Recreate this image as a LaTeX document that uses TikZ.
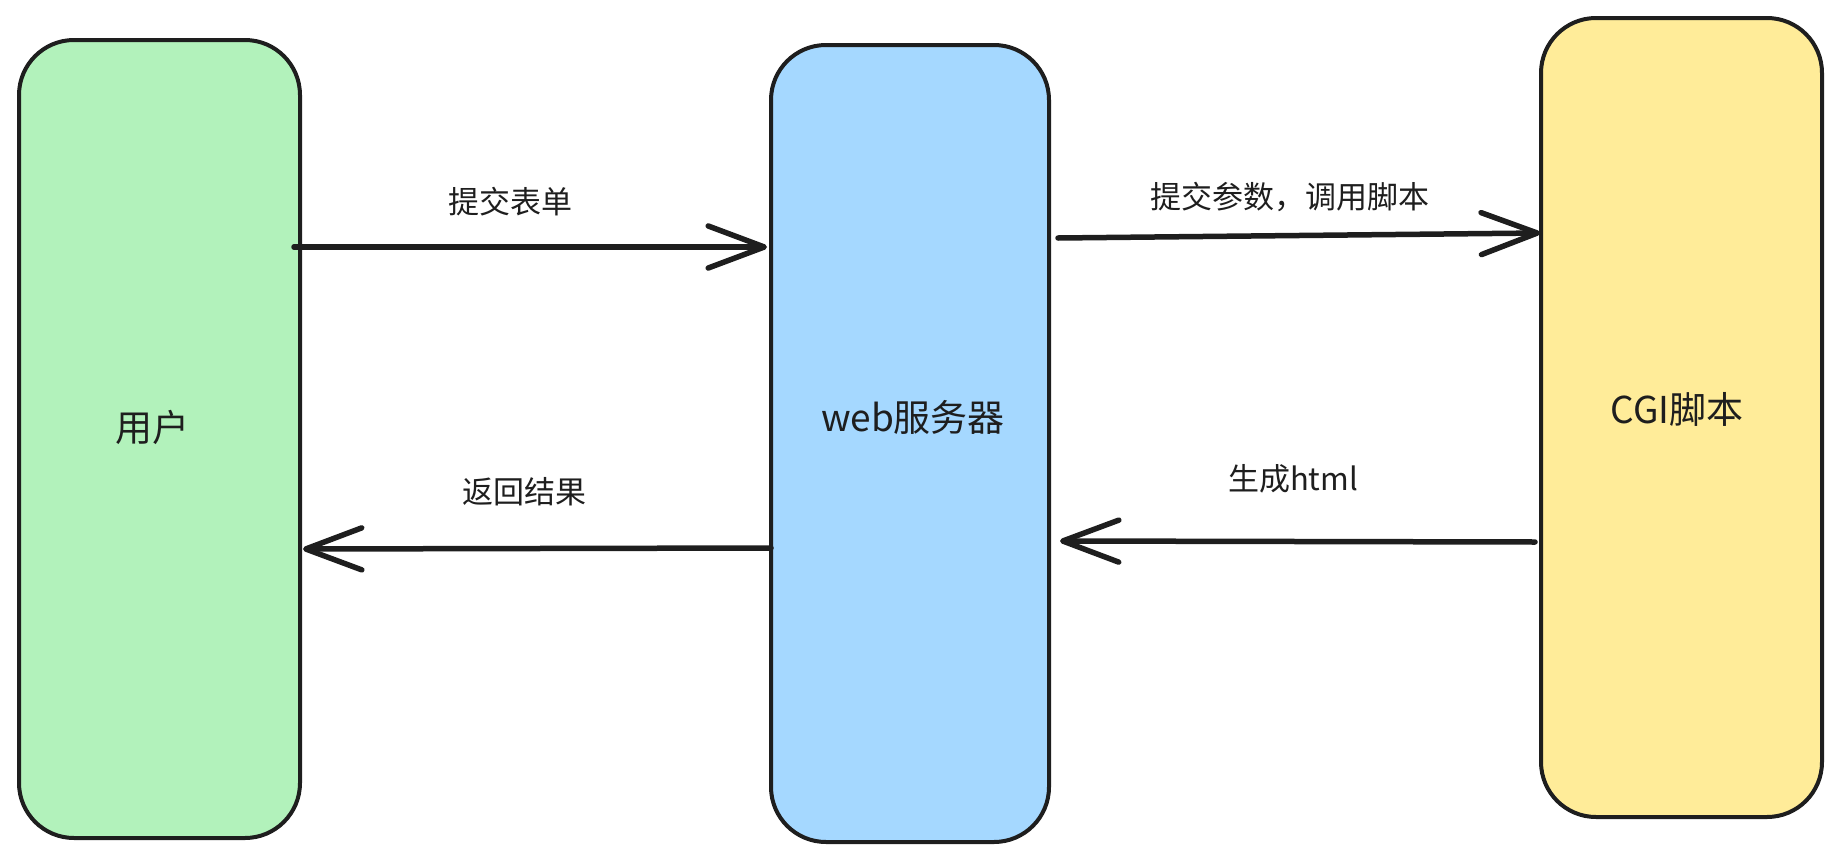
\documentclass[tikz,border=0pt]{standalone}
\usepackage{fontspec}
\setmainfont{Noto Sans CJK SC}
\usetikzlibrary{arrows.meta}
\definecolor{ink}{HTML}{1E1E1E}
\definecolor{usergreen}{HTML}{B2F2BB}
\definecolor{webblue}{HTML}{A5D8FF}
\definecolor{cgiyellow}{HTML}{FFEC99}
\tikzset{
  boxstyle/.style={draw=ink, line width=4pt, rounded corners=55pt, inner sep=0pt, minimum width=281pt},
  boxlabel/.style={text=ink, font=\fontsize{37pt}{44pt}\selectfont, inner sep=0pt},
  edgelabel/.style={text=ink, font=\fontsize{31pt}{38pt}\selectfont, inner sep=0pt},
  arr/.style={draw=ink, line width=5.5pt, line cap=round, -{Straight Barb[length=56pt, width=42pt, round, line width=5.5pt]}}
}
\begin{document}
\begin{tikzpicture}[x=1pt, y=-1pt]
\useasboundingbox (0,0) rectangle (1842,862);
\node[boxstyle, fill=usergreen, minimum width=281pt, minimum height=798pt] (user) at (159.5,439) {};
\node[boxstyle, fill=webblue, minimum width=278pt, minimum height=797pt] (web) at (910,443.5) {};
\node[boxstyle, fill=cgiyellow, minimum width=281pt, minimum height=799pt] (cgi) at (1681.5,417.5) {};
\node[boxlabel] (userlbl) at (152,427) {用户};
\node[boxlabel] (weblbl) at (913,417) {web服务器};
\node[boxlabel] (cgilbl) at (1677,409) {CGI脚本};
\draw[arr] ([xshift=-8pt, yshift=192pt]user.east) -- ([xshift=-2pt, yshift=196.5pt]web.west);
\draw[arr] ([xshift=7pt, yshift=205.5pt]web.east) -- ([xshift=1pt, yshift=184.5pt]cgi.west);
\draw[arr] ([xshift=-4pt, yshift=-124.5pt]cgi.west) -- ([xshift=9pt, yshift=-97.5pt]web.east);
\draw[arr] ([xshift=2pt, yshift=-104.5pt]web.west) -- ([xshift=1pt, yshift=-110pt]user.east);
\node[edgelabel] (l1) at (510,202) {提交表单};
\node[edgelabel] (l2) at (1290,197) {提交参数，调用脚本};
\node[edgelabel] (l3) at (524,492) {返回结果};
\node[edgelabel] (l4) at (1293,479) {生成html};
\end{tikzpicture}
\end{document}
